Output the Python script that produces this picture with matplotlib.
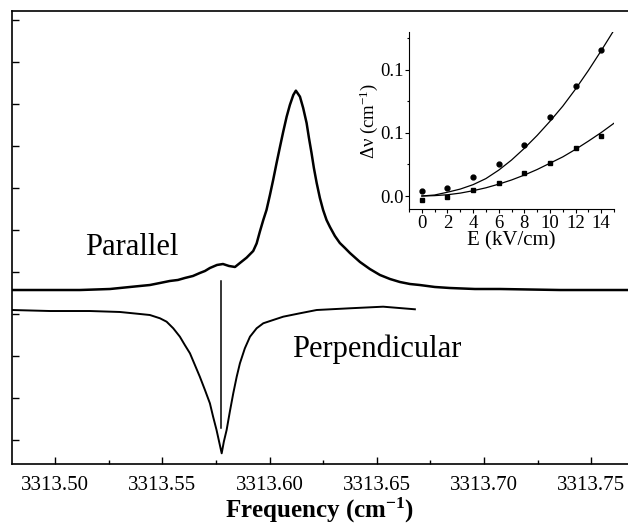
#! /usr/bin/env python3

"""
Stark shift spectra: parallel and perpendicular polarisation traces,
with an inset of the line shift against applied field.
"""
import matplotlib
matplotlib.use('Agg')
import matplotlib.pyplot as plt
from matplotlib.ticker import MultipleLocator, FixedLocator, FixedFormatter

# Main spectrum (frequency in cm-1, signal in arb. units)
par_freq = [3313.4799, 3313.4929, 3313.5116, 3313.5256, 3313.5349, 3313.5396,
            3313.5442, 3313.5489, 3313.5535, 3313.5573, 3313.5605, 3313.5643,
            3313.5675, 3313.5699, 3313.5722, 3313.5755, 3313.5783, 3313.5811,
            3313.5839, 3313.5862, 3313.5893, 3313.5924, 3313.5940, 3313.5955,
            3313.5971, 3313.5986, 3313.6002, 3313.6017, 3313.6033, 3313.6049,
            3313.6064, 3313.6080, 3313.6095, 3313.6111, 3313.6123, 3313.6142,
            3313.6157, 3313.6173, 3313.6184, 3313.6196, 3313.6207, 3313.6220,
            3313.6235, 3313.6250, 3313.6266, 3313.6282, 3313.6305, 3313.6328,
            3313.6352, 3313.6375, 3313.6422, 3313.6468, 3313.6515, 3313.6562,
            3313.6608, 3313.6655, 3313.6701, 3313.6771, 3313.6841, 3313.6958,
            3313.7075, 3313.7355, 3313.7672]
par_sig = [3.571, 3.571, 3.571, 3.595, 3.643, 3.667,
           3.690, 3.738, 3.786, 3.810, 3.857, 3.905,
           3.976, 4.024, 4.095, 4.167, 4.190, 4.143,
           4.119, 4.214, 4.340, 4.500, 4.680, 4.960,
           5.238, 5.476, 5.833, 6.190, 6.595, 6.983,
           7.340, 7.698, 7.976, 8.214, 8.317, 8.174,
           7.905, 7.548, 7.190, 6.833, 6.476, 6.119,
           5.762, 5.476, 5.238, 5.071, 4.857, 4.690,
           4.571, 4.452, 4.238, 4.071, 3.929, 3.833,
           3.762, 3.714, 3.690, 3.643, 3.619, 3.595,
           3.595, 3.571, 3.571]

perp_freq = [3313.4799, 3313.4976, 3313.5162, 3313.5302, 3313.5396, 3313.5442,
             3313.5489, 3313.5520, 3313.5551, 3313.5582, 3313.5605, 3313.5629,
             3313.5652, 3313.5675, 3313.5699, 3313.5722, 3313.5737, 3313.5753,
             3313.5765, 3313.5777, 3313.5787, 3313.5800, 3313.5815, 3313.5831,
             3313.5847, 3313.5862, 3313.5885, 3313.5909, 3313.5940, 3313.5971,
             3313.6017, 3313.6064, 3313.6142, 3313.6220, 3313.6375, 3313.6530,
             3313.6678]
perp_sig = [3.095, 3.071, 3.071, 3.048, 3.000, 2.976,
            2.898, 2.817, 2.660, 2.460, 2.262, 2.064,
            1.786, 1.507, 1.190, 0.874, 0.555, 0.238,
            -0.040, -0.317, -0.040, 0.238, 0.674, 1.112,
            1.507, 1.826, 2.183, 2.460, 2.660, 2.779,
            2.857, 2.936, 3.017, 3.095, 3.136, 3.174,
            3.112]

# zero-field line position marker
marker_freq = 3313.5773
marker_sig = [0.286, 3.786]

# Inset: shift vs field
field = [0, 2, 4, 6, 8, 10, 12, 14]
shift_circ = [0.004, 0.0066, 0.0151, 0.0256, 0.0402, 0.0627, 0.0873, 0.1161]
shift_sq = [-0.0032, -0.0005, 0.0048, 0.0106, 0.018, 0.0265, 0.0381, 0.0476]

fit_field = [0, 1, 2, 3, 4, 5, 6, 7, 8, 9, 10, 11, 12, 13, 14, 15]
fit_circ = [0.0, 0.0008, 0.003, 0.0055, 0.009, 0.0138, 0.0205, 0.0285,
            0.0378, 0.048, 0.0592, 0.0712, 0.0848, 0.0995, 0.1152, 0.1315]
fit_sq = [0.0, 0.0003, 0.001, 0.0023, 0.0042, 0.0065, 0.0094, 0.0127,
          0.0166, 0.021, 0.026, 0.031, 0.037, 0.0435, 0.0503, 0.0577]

inset_yticks = [0.0, 0.05, 0.10]
inset_ylabels = ['0.0', '0.1', '0.1']

plt.rcParams['font.family'] = ['Liberation Serif', 'DejaVu Serif']
plt.rcParams['mathtext.default'] = 'regular'

fig = plt.figure(figsize=(6.28, 5.25), dpi=100)
ax = fig.add_axes([0.0191, 0.1162, 0.9809, 0.8629])

ax.plot(par_freq, par_sig, color='black', lw=1.8, solid_joinstyle='round')
ax.plot(perp_freq, perp_sig, color='black', lw=1.4, solid_joinstyle='round')
ax.plot([marker_freq, marker_freq], marker_sig, color='black', lw=1.1)

ax.text(3313.5139, 4.405, 'Parallel', fontsize=22, ha='left', va='baseline')
ax.text(3313.6104, 1.976, 'Perpendicular', fontsize=22, ha='left',
        va='baseline')

ax.set_xlim(3313.4799, 3313.7672)
ax.set_ylim(-0.571, 10.214)
ax.xaxis.set_major_locator(MultipleLocator(0.05))
ax.xaxis.set_minor_locator(MultipleLocator(0.025))
ax.xaxis.set_major_formatter(plt.FormatStrFormatter('%.2f'))
ax.yaxis.set_major_locator(MultipleLocator(1))
ax.tick_params(axis='both', which='major', direction='in', length=5,
               width=1, labelsize=15, pad=8.5)
ax.tick_params(axis='both', which='minor', direction='in', length=3, width=1)
ax.tick_params(axis='y', labelleft=False)
ax.spines['right'].set_visible(False)
for s in ('left', 'bottom', 'top'):
    ax.spines[s].set_linewidth(1.2)
ax.set_xlabel('Frequency (cm$^{-1}$)', fontsize=18, fontweight='bold',
              labelpad=1)

# Inset
ins = fig.add_axes([0.6513, 0.6019, 0.3264, 0.3371])
ins.plot(fit_field, fit_circ, color='black', lw=0.9)
ins.plot(fit_field, fit_sq, color='black', lw=0.9)
ins.plot(field, shift_circ, 'o', color='black', ms=3.5)
ins.plot(field, shift_sq, 's', color='black', ms=3.2)
ins.set_xlim(-1, 15)
ins.set_ylim(-0.0103, 0.130)
ins.xaxis.set_major_locator(MultipleLocator(2))
ins.xaxis.set_minor_locator(MultipleLocator(1))
ins.yaxis.set_major_locator(FixedLocator(inset_yticks))
ins.yaxis.set_major_formatter(FixedFormatter(inset_ylabels))
ins.yaxis.set_minor_locator(MultipleLocator(0.025))
ins.spines['top'].set_visible(False)
ins.spines['right'].set_visible(False)
ins.tick_params(which='major', direction='out', length=3, width=0.8,
                labelsize=13.5, pad=1)
ins.tick_params(axis='y', which='major', pad=0.5)
ins.tick_params(which='minor', direction='out', length=1.8, width=0.8)
ins.set_xlabel('E (kV/cm)', fontsize=15, labelpad=0)
ins.set_ylabel('\u0394\u03bd (cm$^{-1}$)', fontsize=13.5, labelpad=0.5)

fig.savefig('out.png', dpi=100)
